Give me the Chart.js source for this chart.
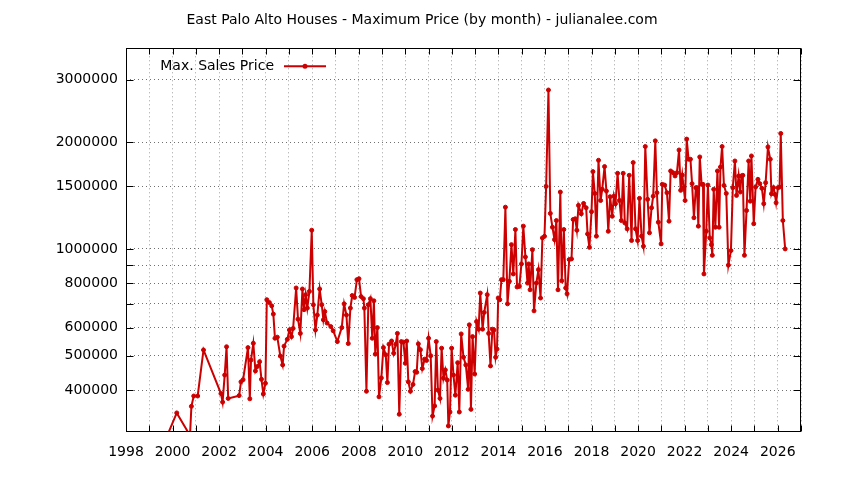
<!DOCTYPE html>
<html>
<head>
<meta charset="utf-8">
<title>East Palo Alto Houses - Maximum Price</title>
<script src="https://cdn.jsdelivr.net/npm/chart.js@4.4.1/dist/chart.umd.min.js"></script>
<style>
    html, body { margin: 0; padding: 0; background: #ffffff; }
    #wrap { width: 844px; height: 480px; }
</style>
</head>
<body>
<div id="wrap"><canvas id="maxPriceChart" width="844" height="480"></canvas></div>
<script>
// Sale month (as decimal year), one row per year
const saleDates = [
    1999.50, 2000.18, 2000.75, 2000.81, 2000.91, 2001.08, 2001.33,
    2002.08, 2002.15, 2002.24, 2002.32, 2002.39, 2002.86, 2002.94,
    2003.03, 2003.24, 2003.32, 2003.37, 2003.47, 2003.56, 2003.64, 2003.74, 2003.82, 2003.90, 2003.99,
    2004.05, 2004.16, 2004.26, 2004.33, 2004.40, 2004.50, 2004.63, 2004.73, 2004.79, 2004.93,
    2005.02, 2005.11, 2005.18, 2005.31, 2005.39, 2005.49, 2005.58, 2005.65, 2005.72, 2005.79, 2005.88, 2005.98,
    2006.05, 2006.14, 2006.22, 2006.32, 2006.41, 2006.48, 2006.54, 2006.64, 2006.80, 2006.90,
    2007.08, 2007.27, 2007.37, 2007.47, 2007.55, 2007.64, 2007.72, 2007.82, 2007.92,
    2008.01, 2008.10, 2008.20, 2008.24, 2008.33, 2008.41, 2008.50, 2008.58, 2008.65, 2008.71, 2008.80, 2008.87, 2008.97,
    2009.06, 2009.16, 2009.23, 2009.30, 2009.41, 2009.50, 2009.59, 2009.66, 2009.74, 2009.83, 2009.92,
    2010.00, 2010.06, 2010.13, 2010.22, 2010.33, 2010.42, 2010.49, 2010.56, 2010.65, 2010.73, 2010.83, 2010.91,
    2011.00, 2011.09, 2011.17, 2011.26, 2011.33, 2011.40, 2011.49, 2011.56, 2011.64, 2011.72, 2011.80, 2011.85, 2011.92, 2011.99,
    2012.07, 2012.15, 2012.25, 2012.32, 2012.40, 2012.50, 2012.60, 2012.70, 2012.75, 2012.82, 2012.89, 2012.98,
    2013.06, 2013.15, 2013.22, 2013.32, 2013.39, 2013.52, 2013.58, 2013.66, 2013.74, 2013.81, 2013.88, 2013.94, 2013.99,
    2014.06, 2014.13, 2014.21, 2014.30, 2014.39, 2014.47, 2014.56, 2014.64, 2014.73, 2014.80, 2014.90, 2014.99,
    2015.07, 2015.16, 2015.25, 2015.30, 2015.36, 2015.46, 2015.53, 2015.63, 2015.72, 2015.81, 2015.89, 2015.98,
    2016.05, 2016.15, 2016.23, 2016.32, 2016.41, 2016.49, 2016.56, 2016.66, 2016.72, 2016.81, 2016.89, 2016.95,
    2017.04, 2017.14, 2017.21, 2017.30, 2017.37, 2017.44, 2017.56, 2017.66, 2017.77, 2017.83, 2017.91,
    2018.00, 2018.06, 2018.14, 2018.21, 2018.30, 2018.39, 2018.46, 2018.56, 2018.64, 2018.72, 2018.80, 2018.89, 2018.96,
    2019.03, 2019.12, 2019.20, 2019.28, 2019.36, 2019.43, 2019.53, 2019.62, 2019.72, 2019.79, 2019.89, 2019.98,
    2020.06, 2020.15, 2020.23, 2020.31, 2020.41, 2020.49, 2020.58, 2020.65, 2020.74, 2020.81, 2020.87, 2020.99,
    2021.04, 2021.14, 2021.24, 2021.33, 2021.40, 2021.50, 2021.59, 2021.67, 2021.76, 2021.83, 2021.90, 2021.96,
    2022.02, 2022.09, 2022.17, 2022.25, 2022.32, 2022.40, 2022.48, 2022.53, 2022.59, 2022.65, 2022.73, 2022.79, 2022.83, 2022.93,
    2023.00, 2023.08, 2023.15, 2023.19, 2023.25, 2023.32, 2023.41, 2023.48, 2023.54, 2023.61, 2023.69, 2023.79, 2023.88, 2023.99,
    2024.07, 2024.16, 2024.23, 2024.32, 2024.39, 2024.44, 2024.50, 2024.57, 2024.66, 2024.75, 2024.82, 2024.87, 2024.97,
    2025.05, 2025.15, 2025.23, 2025.32, 2025.40, 2025.48, 2025.58, 2025.68, 2025.73, 2025.82, 2025.88, 2025.93,
    2026.01, 2026.08, 2026.13, 2026.22, 2026.32
];

// Max. sales price for each month above
const maxPrices = [
    270000, 345000, 298000, 360000, 385000, 385000, 519000,
    391000, 370000, 441000, 530000, 379000, 386000, 422000,
    428000, 527000, 378000, 486000, 542000, 453000, 466000, 481000, 429000, 390000, 418000,
    719000, 706000, 691000, 655000, 560000, 564000, 499000, 471000, 532000, 556000,
    591000, 566000, 597000, 776000, 634000, 578000, 771000, 674000, 743000, 681000, 759000, 1129000,
    696000, 591000, 651000, 771000, 696000, 631000, 666000, 618000, 604000, 588000,
    548000, 600000, 700000, 651000, 541000, 681000, 739000, 730000, 819000,
    824000, 734000, 724000, 681000, 397000, 696000, 724000, 560000, 714000, 505000, 600000, 383000, 433000,
    527000, 503000, 420000, 539000, 550000, 508000, 539000, 578000, 342000, 548000, 546000,
    476000, 550000, 422000, 397000, 415000, 451000, 449000, 540000, 520000, 460000, 489000, 485000,
    560000, 500000, 338000, 361000, 548000, 400000, 379000, 525000, 432000, 456000, 427000, 317000, 347000, 525000,
    441000, 387000, 478000, 347000, 576000, 495000, 471000, 402000, 611000, 353000, 566000, 444000,
    624000, 594000, 751000, 594000, 662000, 743000, 578000, 468000, 594000, 591000, 495000, 522000, 727000,
    719000, 819000, 819000, 1311000, 700000, 810000, 1028000, 850000, 1134000, 781000, 784000, 907000,
    1159000, 949000, 801000, 907000, 767000, 995000, 669000, 801000, 874000, 727000, 1074000, 1085000,
    1500000, 2804000, 1259000, 1151000, 1062000, 1202000, 767000, 1446000, 813000, 1134000, 776000, 747000,
    933000, 937000, 1210000, 1216000, 1129000, 1326000, 1256000, 1343000, 1306000, 1102000, 1010000,
    1273000, 1651000, 1433000, 1086000, 1777000, 1369000, 1472000, 1706000, 1455000, 1121000, 1403000, 1236000, 1408000,
    1341000, 1633000, 1369000, 1202000, 1633000, 1184000, 1139000, 1612000, 1056000, 1751000, 1139000, 1056000,
    1388000, 1086000, 1017000, 1943000, 1379000, 1110000, 1306000, 1408000, 2016000, 1440000, 1189000, 1033000,
    1520000, 1513000, 1440000, 1197000, 1658000, 1640000, 1605000, 1640000, 1900000, 1462000, 1615000, 1488000,
    1369000, 2039000, 1789000, 1789000, 1527000, 1224000, 1488000, 1488000, 1159000, 1816000, 1520000, 1520000, 850000, 1121000,
    1513000, 1074000, 1028000, 959000, 1472000, 1151000, 1658000, 1151000, 1701000, 1943000, 1510000, 1433000, 900000, 989000,
    1488000, 1769000, 1415000, 1605000, 1446000, 1605000, 1612000, 959000, 1283000, 1769000, 1363000, 1828000, 1177000,
    1494000, 1570000, 1527000, 1481000, 1341000, 1537000, 1938000, 1789000, 1430000, 1488000, 1424000, 1349000,
    1488000, 1494000, 2115000, 1202000, 1000000
];

// Axis ticks
const yTickValues = [400000, 500000, 600000, 700000, 800000, 900000, 1000000, 1500000, 2000000, 3000000];
const yTickLabels = ['400000', '500000', '600000', '', '800000', '', '1000000', '1500000', '2000000', '3000000'];
const xTickYears = [1998, 1999, 2000, 2001, 2002, 2003, 2004, 2005, 2006, 2007, 2008, 2009, 2010, 2011, 2012,
    2013, 2014, 2015, 2016, 2017, 2018, 2019, 2020, 2021, 2022, 2023, 2024, 2025, 2026, 2027];
const xLabelYears = [1998, 2000, 2002, 2004, 2006, 2008, 2010, 2012, 2014, 2016, 2018, 2020, 2022, 2024, 2026];

const chartTitle = 'East Palo Alto Houses - Maximum Price (by month) - julianalee.com';
const seriesLabel = 'Max. Sales Price';
const fontFamily = '"DejaVu Sans", sans-serif';

// Plugin to draw the gnuplot style frame with inward tick marks
const framePlugin = {
    id: 'frame',
    afterDraw(chart) {
        const ctx = chart.ctx;
        const a = chart.chartArea;
        const x = chart.scales.x;
        const y = chart.scales.y;
        const left = Math.round(a.left) + 0.5;
        const right = Math.round(a.right) - 0.5;
        const top = Math.round(a.top) + 0.5;
        const bottom = Math.round(a.bottom) - 0.5;

        ctx.save();
        ctx.strokeStyle = '#000000';
        ctx.lineWidth = 1;
        ctx.beginPath();
        xTickYears.forEach(year => {
            const px = Math.round(x.getPixelForValue(year)) + 0.5;
            ctx.moveTo(px, bottom);
            ctx.lineTo(px, bottom - 6);
            ctx.moveTo(px, top);
            ctx.lineTo(px, top + 6);
        });
        yTickValues.forEach(value => {
            const py = Math.round(y.getPixelForValue(value)) + 0.5;
            ctx.moveTo(left, py);
            ctx.lineTo(left + 7, py);
            ctx.moveTo(right, py);
            ctx.lineTo(right - 7, py);
        });
        ctx.stroke();
        ctx.strokeRect(left, top, right - left, bottom - top);
        ctx.restore();
    }
};

// Plugin to draw the key inside the plot, text first then the line sample
const insideLegendPlugin = {
    id: 'insideLegend',
    afterDraw(chart) {
        const ds = chart.data.datasets[0];
        const ctx = chart.ctx;
        const a = chart.chartArea;
        const yMid = a.top + 18;

        ctx.save();
        ctx.font = '14px ' + fontFamily;
        ctx.fillStyle = '#000000';
        ctx.textAlign = 'right';
        ctx.textBaseline = 'middle';
        ctx.fillText(ds.label, a.left + 148, yMid);

        ctx.strokeStyle = ds.borderColor;
        ctx.lineWidth = ds.borderWidth;
        ctx.beginPath();
        ctx.moveTo(a.left + 158, yMid);
        ctx.lineTo(a.left + 200, yMid);
        ctx.stroke();

        ctx.fillStyle = ds.borderColor;
        ctx.beginPath();
        ctx.arc(a.left + 179, yMid, 2.5, 0, Math.PI * 2);
        ctx.fill();
        ctx.restore();
    }
};

// Function to plot the monthly maximum price chart
function plotMaxPriceChart() {
    const points = saleDates.map((date, i) => ({ x: date, y: maxPrices[i] }));
    const ctx = document.getElementById('maxPriceChart').getContext('2d');

    Chart.defaults.font.family = fontFamily;
    Chart.defaults.font.size = 14;
    Chart.defaults.color = '#000000';

    const maxPriceChart = new Chart(ctx, {
        type: 'line',
        data: {
            datasets: [{
                label: seriesLabel,
                data: points,
                borderColor: '#cc0000',
                backgroundColor: '#cc0000',
                borderWidth: 2,
                pointRadius: 2,
                pointBorderWidth: 1,
                pointHoverRadius: 2,
                tension: 0,
                fill: false,
                clip: 0
            }]
        },
        options: {
            responsive: false,
            animation: false,
            layout: { padding: 0 },
            plugins: {
                legend: { display: false },
                tooltip: { enabled: false },
                title: {
                    display: true,
                    text: chartTitle,
                    color: '#000000',
                    font: { family: fontFamily, size: 14, weight: 'normal' },
                    padding: { top: 12, bottom: 19.5 }
                }
            },
            scales: {
                x: {
                    type: 'linear',
                    min: 1998,
                    max: 2027,
                    afterBuildTicks: scale => {
                        scale.ticks = xTickYears.map(v => ({ value: v }));
                    },
                    afterFit: scale => {
                        scale.height = 48;
                    },
                    ticks: {
                        autoSkip: false,
                        maxRotation: 0,
                        padding: 12,
                        callback: value => (xLabelYears.includes(value) ? String(value) : '')
                    },
                    grid: { color: '#a0a0a0', lineWidth: 1, drawTicks: false },
                    border: { display: false, dash: [1, 3] }
                },
                y: {
                    type: 'logarithmic',
                    min: 304800,
                    max: 3675000,
                    afterBuildTicks: scale => {
                        scale.ticks = yTickValues.map(v => ({ value: v }));
                    },
                    afterFit: scale => {
                        scale.width = 126;
                    },
                    ticks: {
                        padding: 8,
                        callback: (value, index) => yTickLabels[index]
                    },
                    grid: { color: '#707070', lineWidth: 1, drawTicks: false },
                    border: { display: false, dash: [1, 3] }
                },
                // empty right column so the plot ends where gnuplot's does
                yRight: {
                    type: 'linear',
                    position: 'right',
                    min: 0,
                    max: 1,
                    afterFit: scale => {
                        scale.width = 43;
                    },
                    ticks: { display: false },
                    grid: { display: false, drawTicks: false },
                    border: { display: false }
                }
            }
        },
        plugins: [framePlugin, insideLegendPlugin]
    });
}

window.onload = plotMaxPriceChart;
</script>
</body>
</html>
